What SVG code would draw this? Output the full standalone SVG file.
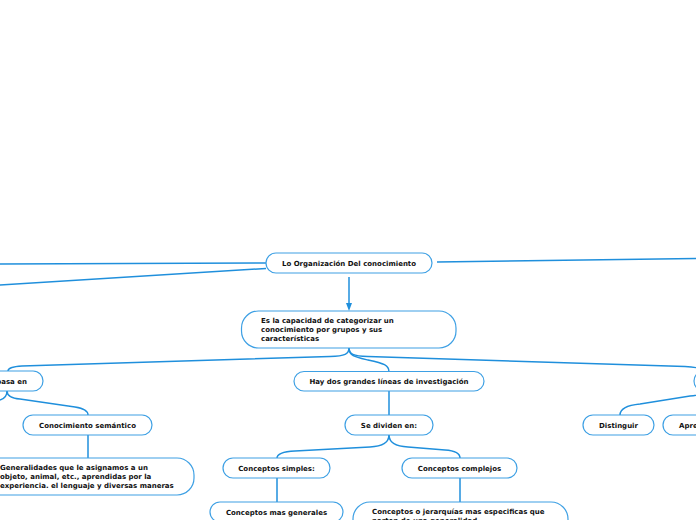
<svg xmlns="http://www.w3.org/2000/svg" width="696" height="520" viewBox="0 0 696 520">
<style>
.n{fill:#fff;stroke:#3ea0e4;stroke-width:1.2}
.t{font-family:"DejaVu Sans",Verdana,sans-serif;font-weight:bold;font-size:7px;fill:#111}
.c{text-anchor:middle}
.k{fill:none;stroke:#1f8fdc;stroke-width:1.5}
</style>
<defs>
<marker id="ah" markerWidth="8" markerHeight="8" refX="4" refY="4" orient="auto" markerUnits="userSpaceOnUse">
<path d="M0,1 L8,4 L0,7 Z" fill="#1f8fdc"/>
</marker>
</defs>
<rect width="696" height="520" fill="#fff"/>
<g id="connectors">
<path class="k" d="M266,263 L0,264"/>
<path class="k" d="M266,268.5 L0,285"/>
<path class="k" d="M437,262 L696,258.5"/>
<path class="k" d="M349,277 L349,307" marker-end="url(#ah)"/>
<path class="k" d="M349,348 C349,354 345,356 330,356.5 L22,366 C12,366.5 8,368 8,371"/>
<path class="k" d="M349,348 C349,356 355,357 368,360 C384,363.5 389,365 389,372"/>
<path class="k" d="M349,348 C349,354 353,356 368,356.5 L685,366.5 C695,367 702,368 702,371"/>
<path class="k" d="M389,391 L389,415"/>
<path class="k" d="M389,435 Q389,446 370,447 L295,451 Q277,452 277,458"/>
<path class="k" d="M389,435 Q389,446 408,447 L445,450 Q460,451 460,458"/>
<path class="k" d="M277,478 L277,502"/>
<path class="k" d="M460,478 L460,502"/>
<path class="k" d="M7,391 Q7,398 0,400"/>
<path class="k" d="M7,391 Q7,398 20,399 L75,407 Q88,409 88,415"/>
<path class="k" d="M88,435 L88,458"/>
<path class="k" d="M702,391 Q702,395 690,396 L640,404 Q620,406 620,415"/>
</g>
<g id="n1"><rect class="n" x="266" y="253" width="166" height="20" rx="10"/><text class="t c" x="349" y="265.5">Lo Organización Del conocimiento</text></g>
<g id="n2"><rect class="n" x="241.5" y="311" width="214.5" height="37" rx="17"/>
<text class="t" x="261" y="323">Es la capacidad de categorizar un</text>
<text class="t" x="261" y="332">conocimiento por grupos y sus</text>
<text class="t" x="261" y="341">características</text></g>
<g id="n3"><rect class="n" x="-40" y="371" width="83" height="20" rx="10"/><text class="t" x="27" y="383.5" text-anchor="end">pasa en</text></g>
<g id="n4"><rect class="n" x="294" y="371.5" width="190" height="19.5" rx="10"/><text class="t c" x="389" y="383.5">Hay dos grandes líneas de investigación</text></g>
<g id="n5"><rect class="n" x="694" y="371" width="100" height="20" rx="10"/></g>
<g id="n6"><rect class="n" x="23" y="415" width="129" height="20" rx="10"/><text class="t c" x="87.5" y="427.5">Conocimiento semántico</text></g>
<g id="n7"><rect class="n" x="345" y="415" width="88" height="20" rx="10"/><text class="t c" x="389" y="427.5">Se dividen en:</text></g>
<g id="n8"><rect class="n" x="583" y="415" width="71" height="20" rx="10"/><text class="t c" x="618.5" y="427.5">Distinguir</text></g>
<g id="n9"><rect class="n" x="663" y="415" width="80" height="20" rx="10"/><text class="t" x="679" y="427.5">Apre</text></g>
<g id="n10"><rect class="n" x="-30" y="458" width="224" height="37" rx="17"/>
<text class="t" x="0" y="470">Generalidades que le asignamos a un</text>
<text class="t" x="0" y="479">objeto, animal, etc., aprendidas por la</text>
<text class="t" x="0" y="488">experiencia. el lenguaje y diversas maneras</text></g>
<g id="n11"><rect class="n" x="223" y="458" width="107" height="20" rx="10"/><text class="t c" x="276.5" y="470.5">Conceptos simples:</text></g>
<g id="n12"><rect class="n" x="402" y="458" width="115" height="20" rx="10"/><text class="t c" x="459.5" y="470.5">Conceptos complejos</text></g>
<g id="n13"><rect class="n" x="210" y="502" width="133" height="20" rx="10"/><text class="t c" x="276.5" y="514.5">Conceptos mas generales</text></g>
<g id="n14"><rect class="n" x="353" y="502" width="215" height="37" rx="17"/>
<text class="t" x="372" y="514">Conceptos o jerarquías mas especificas que</text>
<text class="t" x="372" y="523">parten de una generalidad</text></g>
</svg>
